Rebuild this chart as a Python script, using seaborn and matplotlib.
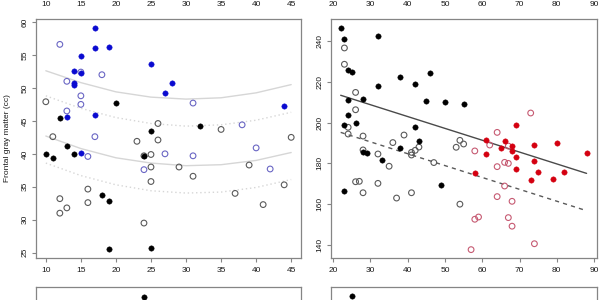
import numpy as np
import pandas as pd
import matplotlib
matplotlib.use("Agg")
import matplotlib.pyplot as plt
import seaborn as sns

sns.set_theme(style="white")
plt.rcParams['font.family'] = ['Liberation Sans', 'DejaVu Sans']

# ---------------- Left panel data (age vs frontal gray matter) ----------------
L_filled_blue_x = [17, 17, 19, 15, 14, 15, 25, 14, 14, 27, 28, 13, 17, 44, 15]
L_filled_blue_y = [59.1, 56.1, 56.2, 54.8, 52.6, 52.2, 53.7, 50.8, 50.5, 49.2, 50.7, 45.6, 45.9, 47.2, 40.1]
L_open_blue_x = [12, 15, 18, 13, 15, 15, 13, 31, 38, 17, 40, 16, 27, 31, 24, 42]
L_open_blue_y = [56.6, 52.4, 52.0, 51.0, 48.8, 47.5, 46.5, 47.7, 44.4, 42.6, 40.9, 39.6, 40.0, 39.7, 37.6, 37.7]
L_filled_black_x = [20, 12, 32, 25, 13, 10, 11, 14, 24, 18, 19, 19, 25]
L_filled_black_y = [47.7, 45.4, 44.2, 43.5, 41.2, 40.0, 39.4, 40.0, 39.7, 33.8, 32.9, 25.5, 25.65]
L_open_grey_x = [10, 26, 35, 11, 23, 26, 45, 25, 25, 29, 31, 39, 25, 44, 37, 16, 12, 13, 12, 16, 41, 24, 24]
L_open_grey_y = [47.9, 44.6, 43.7, 42.6, 41.9, 42.1, 42.5, 39.9, 38.0, 38.0, 36.6, 38.3, 35.8, 35.3, 34.0, 34.65,
                 33.2, 31.8, 31.0, 32.6, 32.3, 29.5, 39.7]

# fitted curves
L_curve_x = [10, 15, 20, 25, 30, 35, 40, 45]
L_curve_solid_hi = [52.6, 50.8, 49.4, 48.6, 48.3, 48.5, 49.25, 50.5]
L_curve_dot_hi = [48.8, 46.9, 45.5, 44.6, 44.2, 44.4, 45.1, 46.3]
L_curve_solid_lo = [42.7, 40.8, 39.4, 38.6, 38.2, 38.35, 39.0, 40.2]
L_curve_dot_lo = [38.6, 36.7, 35.3, 34.4, 34.05, 34.2, 34.9, 36.1]

# ---------------- Right panel data ----------------
R_filled_black_x = [22, 23, 24, 25, 32, 32, 24, 28, 24, 23, 26, 38, 42, 46, 45, 50, 55, 42, 43, 38,
                    28, 29, 33, 23, 49]
R_filled_black_y = [246.2, 241.1, 225.9, 224.6, 242.5, 217.9, 211.1, 211.4, 203.7, 199.0, 199.8, 222.2,
                    218.8, 224.5, 210.6, 210.3, 209.1, 197.7, 191.0, 187.7, 185.4, 184.9, 181.8, 166.6, 169.6]
R_open_grey_x = [23, 23, 26, 26, 24, 24, 28, 39, 36, 43, 42, 41, 41, 28, 32, 35, 47, 26, 27, 32,
                 28, 37, 41, 54, 54, 55, 53]
R_open_grey_y = [236.6, 228.6, 214.8, 206.3, 197.7, 194.4, 193.4, 193.9, 190.2, 188.0, 186.4, 185.4,
                 184.1, 186.6, 184.6, 178.6, 180.4, 171.0, 171.2, 170.2, 165.6, 163.0, 165.6, 160.0,
                 191.3, 189.5, 187.9]
R_filled_red_x = [69, 61, 66, 68, 65, 68, 74, 80, 61, 88, 69, 74, 69, 58, 75, 82, 79, 73]
R_filled_red_y = [198.8, 191.3, 191.0, 188.7, 187.5, 186.2, 189.0, 190.0, 184.5, 185.1, 183.0, 181.3,
                  177.4, 175.3, 175.6, 176.0, 172.4, 171.7]
R_open_pink_x = [73, 64, 62, 67, 58, 66, 67, 64, 66, 64, 68, 58, 59, 67, 68, 57, 74]
R_open_pink_y = [204.7, 195.2, 189.0, 188.5, 186.1, 180.5, 180.0, 178.4, 168.9, 163.7, 161.4, 152.6,
                 153.7, 153.4, 149.2, 137.7, 140.6]

R_line_x = [22, 88]
R_line_solid = [213.4, 175.1]
R_line_dash = [195.2, 156.8]

# partial panels below
B_left_x, B_left_y = [24], [59.0]
B_right_x, B_right_y = [25], [246.4]

y_label = "Frontal gray matter (cc)"
L_xticks = [10, 15, 20, 25, 30, 35, 40, 45]
L_yticks = [25, 30, 35, 40, 45, 50, 55, 60]
R_xticks = [20, 30, 40, 50, 60, 70, 80, 90]
R_yticks = [140, 160, 180, 200, 220, 240]

# ---------------- styling ----------------
W, H = 600, 300
fig = plt.figure(figsize=(6, 3), dpi=100)
fig.patch.set_facecolor("white")

SPINE = "#858585"
TXT = "#1a1a1a"
FS = 6.0

def px_axes(x0, y0, x1, y1):
    return fig.add_axes([x0 / W, 1 - y1 / H, (x1 - x0) / W, (y1 - y0) / H])

def style(ax, xlim, ylim, xt, yt, show_y=True, show_x=True):
    ax.set_xlim(*xlim)
    ax.set_ylim(*ylim)
    ax.set_xticks(xt)
    ax.set_yticks(yt if show_y else [])
    ax.set_facecolor("white")
    for s in ax.spines.values():
        s.set_visible(True)
        s.set_color(SPINE)
        s.set_linewidth(0.9)
    ax.tick_params(axis="both", which="both", direction="out", length=3, width=0.8,
                   color=SPINE, labelsize=FS, labelcolor=TXT, pad=3.5,
                   bottom=True, left=True, top=False, right=False)
    ax.tick_params(axis="y", labelrotation=90, pad=2.5)
    for lab in ax.get_yticklabels():
        lab.set_va("center")
    if not show_x:
        ax.set_xticklabels([])
    ax.set_xlabel("")
    ax.set_ylabel("")
    ax.grid(False)

def filled(ax, x, y, c):
    sns.scatterplot(x=x, y=y, ax=ax, color=c, edgecolor=c, linewidth=0.3, s=15, zorder=3)

def opened(ax, x, y, c):
    sns.scatterplot(x=x, y=y, ax=ax, facecolor="none", edgecolor=c, linewidth=0.8, s=17, zorder=3)

L_xlim, L_ylim = (8.6, 46.4), (24.2, 60.45)
R_xlim, R_ylim = (19.4, 90.8), (133.6, 250.8)

# Left main panel
axL = px_axes(36, 19, 301, 258)
curve_c = "#d6d6d6"
sns.lineplot(x=L_curve_x, y=L_curve_solid_hi, ax=axL, color=curve_c, linewidth=1.0)
sns.lineplot(x=L_curve_x, y=L_curve_dot_hi, ax=axL, color=curve_c, linewidth=1.0, linestyle=(0, (1, 2)))
sns.lineplot(x=L_curve_x, y=L_curve_solid_lo, ax=axL, color=curve_c, linewidth=1.0)
sns.lineplot(x=L_curve_x, y=L_curve_dot_lo, ax=axL, color=curve_c, linewidth=1.0, linestyle=(0, (1, 2)))
opened(axL, L_open_grey_x, L_open_grey_y, "#5a5a5a")
opened(axL, L_open_blue_x, L_open_blue_y, "#6a66c4")
filled(axL, L_filled_black_x, L_filled_black_y, "#000000")
filled(axL, L_filled_blue_x, L_filled_blue_y, "#0a0ad0")
style(axL, L_xlim, L_ylim, L_xticks, L_yticks)

# Right main panel
axR = px_axes(331, 19, 597, 258)
sns.lineplot(x=R_line_x, y=R_line_solid, ax=axR, color="#4a4a4a", linewidth=1.0)
sns.lineplot(x=R_line_x, y=R_line_dash, ax=axR, color="#5a5a5a", linewidth=1.0, linestyle=(0, (3, 3)))
opened(axR, R_open_grey_x, R_open_grey_y, "#5a5a5a")
opened(axR, R_open_pink_x, R_open_pink_y, "#c65a72")
filled(axR, R_filled_black_x, R_filled_black_y, "#000000")
filled(axR, R_filled_red_x, R_filled_red_y, "#d40010")
style(axR, R_xlim, R_ylim, R_xticks, R_yticks)

fig.text(8 / W, 1 - 138 / H, y_label, rotation=90, ha="center", va="center",
         fontsize=FS, color=TXT)

# Panels above (only their x tick labels are visible)
axTL = px_axes(36, -248, 301, -8)
style(axTL, L_xlim, L_ylim, L_xticks, L_yticks, show_y=False)
axTR = px_axes(331, -248, 597, -8)
style(axTR, R_xlim, R_ylim, R_xticks, R_yticks, show_y=False)

# Panels below (only their top edge visible)
axBL = px_axes(36, 287, 301, 526)
filled(axBL, B_left_x, B_left_y, "#000000")
style(axBL, L_xlim, L_ylim, L_xticks, L_yticks, show_y=False, show_x=False)
axBR = px_axes(331, 287, 597, 526)
filled(axBR, B_right_x, B_right_y, "#000000")
style(axBR, R_xlim, R_ylim, R_xticks, R_yticks, show_y=False, show_x=False)

fig.savefig("out.png", dpi=100, facecolor="white")
